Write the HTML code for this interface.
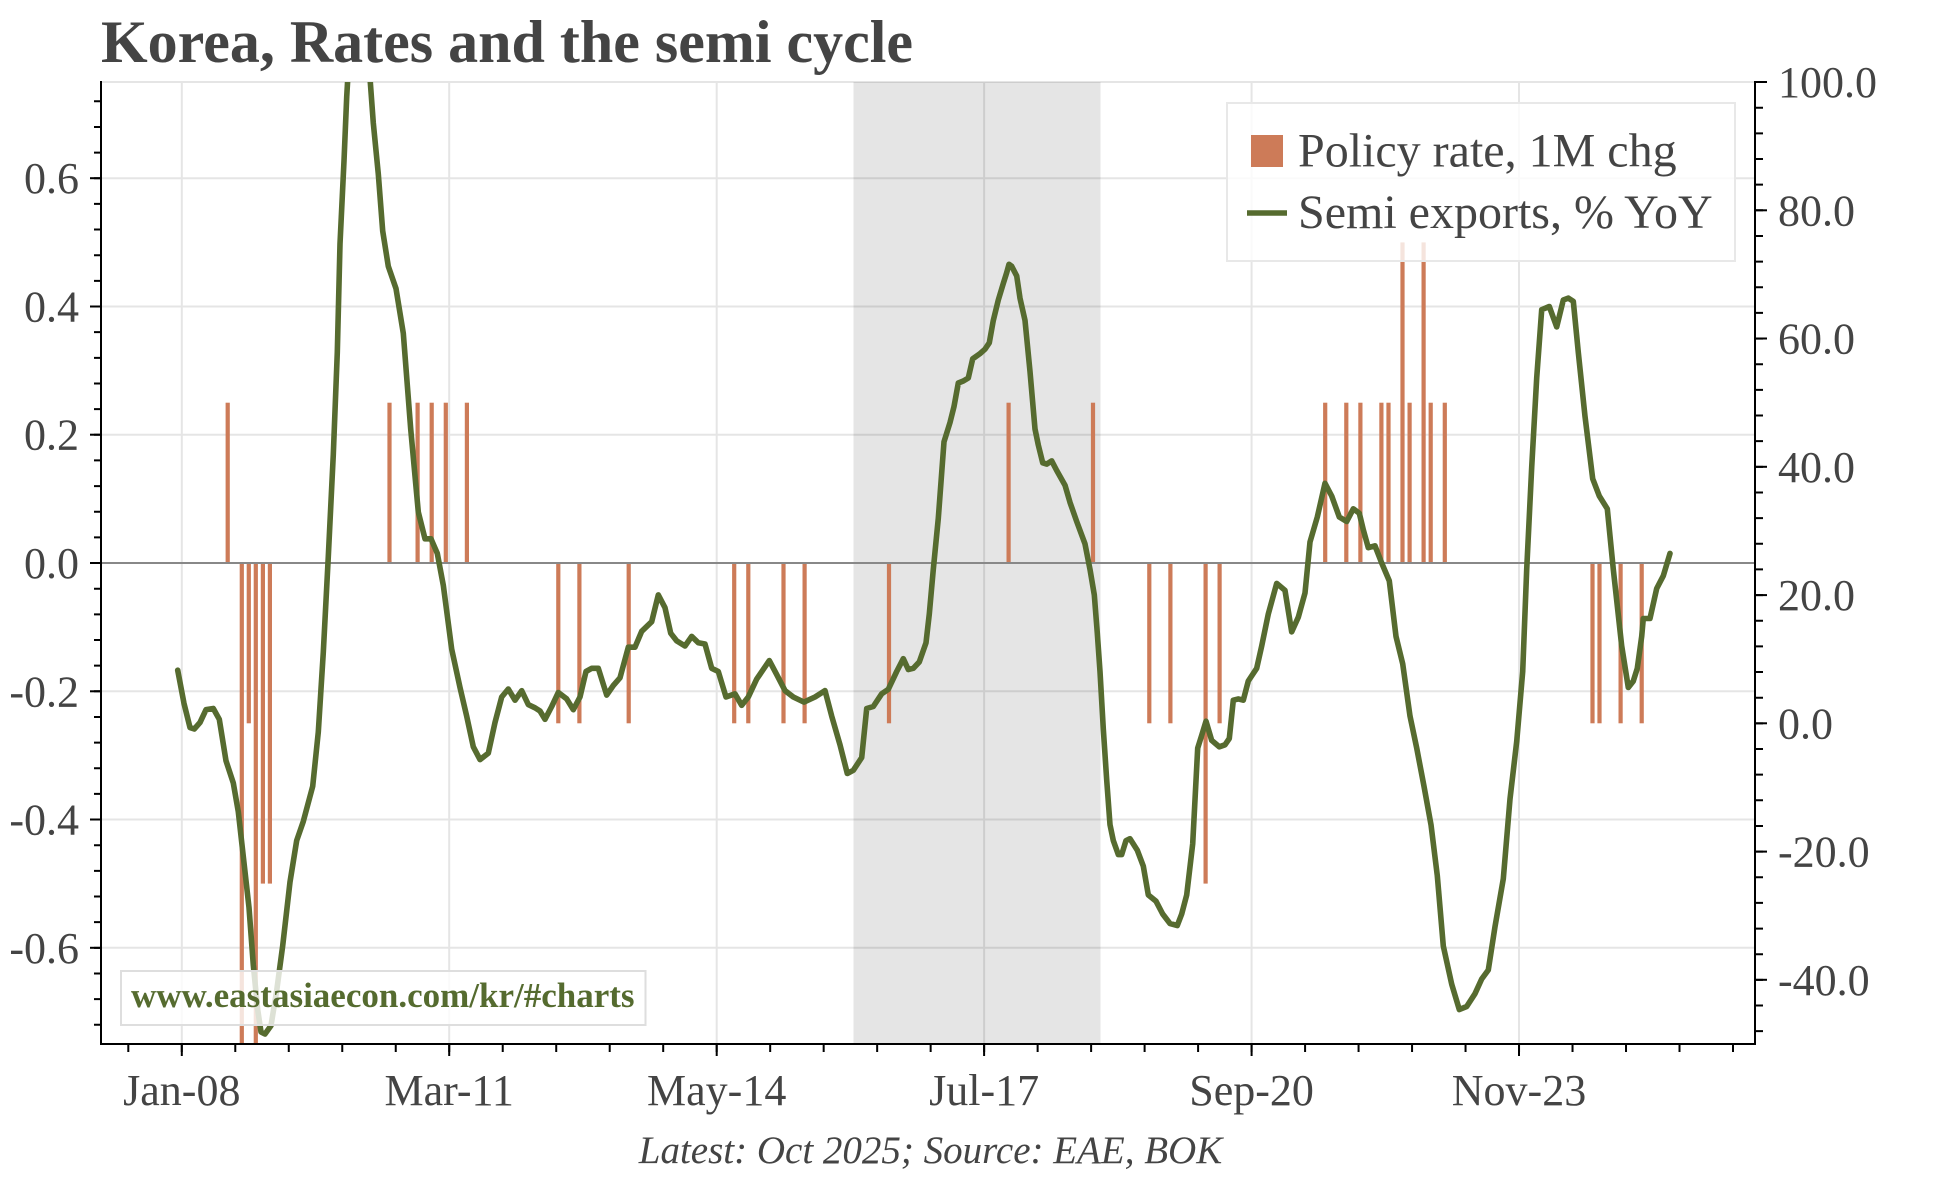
<!DOCTYPE html>
<html><head><meta charset="utf-8"><style>
html,body{margin:0;padding:0;background:#fff;}
svg{display:block;}
text{font-family:"Liberation Serif",serif;fill:#444;}
</style></head><body>
<svg width="1944" height="1178" viewBox="0 0 1944 1178" xmlns="http://www.w3.org/2000/svg">
<defs><clipPath id="pc"><rect x="101" y="82" width="1654" height="962"/></clipPath></defs>
<rect width="1944" height="1178" fill="#fff"/>
<text x="101" y="62" font-size="60" font-weight="bold">Korea, Rates and the semi cycle</text>
<g stroke="#e5e5e5" stroke-width="2">
<line x1="101" y1="82" x2="1755" y2="82"/>
<line x1="101" y1="178.2" x2="1755" y2="178.2"/>
<line x1="101" y1="306.5" x2="1755" y2="306.5"/>
<line x1="101" y1="434.7" x2="1755" y2="434.7"/>
<line x1="101" y1="691.3" x2="1755" y2="691.3"/>
<line x1="101" y1="819.5" x2="1755" y2="819.5"/>
<line x1="101" y1="947.8" x2="1755" y2="947.8"/>
<line x1="181.8" y1="82" x2="181.8" y2="1044"/>
<line x1="449.2" y1="82" x2="449.2" y2="1044"/>
<line x1="716.7" y1="82" x2="716.7" y2="1044"/>
<line x1="984.1" y1="82" x2="984.1" y2="1044"/>
<line x1="1251.6" y1="82" x2="1251.6" y2="1044"/>
<line x1="1519" y1="82" x2="1519" y2="1044"/>
</g>
<rect x="853.5" y="82" width="247" height="962" fill="#000" fill-opacity="0.1"/>
<g clip-path="url(#pc)" fill="#cd7b58">
<rect x="225.6" y="402.7" width="4.2" height="160.3"/>
<rect x="239.7" y="563" width="4.2" height="481"/>
<rect x="246.7" y="563" width="4.2" height="160.3"/>
<rect x="253.7" y="563" width="4.2" height="481"/>
<rect x="260.8" y="563" width="4.2" height="320.6"/>
<rect x="267.8" y="563" width="4.2" height="320.6"/>
<rect x="387.4" y="402.7" width="4.2" height="160.3"/>
<rect x="415.5" y="402.7" width="4.2" height="160.3"/>
<rect x="429.6" y="402.7" width="4.2" height="160.3"/>
<rect x="443.7" y="402.7" width="4.2" height="160.3"/>
<rect x="464.8" y="402.7" width="4.2" height="160.3"/>
<rect x="556.2" y="563" width="4.2" height="160.3"/>
<rect x="577.3" y="563" width="4.2" height="160.3"/>
<rect x="626.6" y="563" width="4.2" height="160.3"/>
<rect x="732.1" y="563" width="4.2" height="160.3"/>
<rect x="746.2" y="563" width="4.2" height="160.3"/>
<rect x="781.4" y="563" width="4.2" height="160.3"/>
<rect x="802.5" y="563" width="4.2" height="160.3"/>
<rect x="886.9" y="563" width="4.2" height="160.3"/>
<rect x="1006.5" y="402.7" width="4.2" height="160.3"/>
<rect x="1090.9" y="402.7" width="4.2" height="160.3"/>
<rect x="1147.2" y="563" width="4.2" height="160.3"/>
<rect x="1168.3" y="563" width="4.2" height="160.3"/>
<rect x="1203.5" y="563" width="4.2" height="320.6"/>
<rect x="1217.5" y="563" width="4.2" height="160.3"/>
<rect x="1323.1" y="402.7" width="4.2" height="160.3"/>
<rect x="1344.2" y="402.7" width="4.2" height="160.3"/>
<rect x="1358.3" y="402.7" width="4.2" height="160.3"/>
<rect x="1379.3" y="402.7" width="4.2" height="160.3"/>
<rect x="1386.4" y="402.7" width="4.2" height="160.3"/>
<rect x="1400.4" y="242.4" width="4.2" height="320.6"/>
<rect x="1407.5" y="402.7" width="4.2" height="160.3"/>
<rect x="1421.5" y="242.4" width="4.2" height="320.6"/>
<rect x="1428.6" y="402.7" width="4.2" height="160.3"/>
<rect x="1442.7" y="402.7" width="4.2" height="160.3"/>
<rect x="1590.4" y="563" width="4.2" height="160.3"/>
<rect x="1597.4" y="563" width="4.2" height="160.3"/>
<rect x="1618.5" y="563" width="4.2" height="160.3"/>
<rect x="1639.6" y="563" width="4.2" height="160.3"/>
</g>
<line x1="101" y1="563" x2="1755" y2="563" stroke="#888" stroke-width="2"/>
<g clip-path="url(#pc)">
<polyline fill="none" stroke="#566b2f" stroke-width="5.6" stroke-linejoin="round" stroke-linecap="round" points="177.7,670.2 184,703.4 190,727.6 194.3,729 200,722.5 206,709.7 213.3,708.5 219.3,719.3 226,760.8 233.3,783 238.3,811.8 243.3,856.5 249,907.5 253.3,965 257.7,1009.6 261,1032 265,1034 271,1025.6 276.7,990.5 282.7,945.8 290,882 296.7,840.5 303.3,821.4 312.7,786.3 318.3,732 323.3,652.3 328.3,556.6 333.3,454.5 337.3,352.4 340,243.9 344,161 346.7,97 350,40 359,-20 368,40 370,78 373.3,123 378.3,174 382.7,231 388.3,266.3 396,288.6 403.3,333.3 410.7,429 418.3,512 425,538.8 431,538.8 437.3,553.4 443.3,585.3 451.7,649.2 460,687.5 466.7,716.2 473.3,746.8 480,759.6 488.3,753.2 495,722.5 501.7,697 508.3,689 515,700.2 521.7,690.7 528.3,704.6 535,707.8 540,711 545,719.3 551.7,706.5 558.3,692.5 566.7,698.9 573.3,709.7 580,697 586,671.5 591.7,668.3 598.3,668.3 606.7,695.1 613.3,685.5 620,677.8 628.3,647.2 635,647.2 641.7,631.3 651.7,621.7 658.3,594.9 665,607.7 670.7,633.2 676.7,640.9 685,646 691.7,636.4 698.3,642.8 705,644 711.7,668.3 718.3,671.5 726,697 735,693.8 741.7,705.3 748.3,697 756.7,679.1 769.3,660.6 776.7,674.6 785,690.6 793.3,697 804,702.1 815,697 825,690.6 831.7,716.1 840,744.8 847.3,773.5 853.3,770.3 861.7,757.6 866.7,708.5 873.3,706.5 881.7,693.8 888.3,689.3 896.7,671.5 903.3,658.7 908.3,669.5 913.3,668.3 919.3,661.9 926,642.8 929.3,614 933.3,569.4 938.3,518.3 944,441.8 950,422.6 954,406.6 958.3,383 963.3,381 968.3,378 972.7,358.8 980,353.6 985,349.2 989.3,342.8 993.3,320.4 998.3,300 1003.3,283.4 1006.7,272.6 1009,264.3 1011.7,266.3 1016.7,275.9 1020,298.2 1025,320.4 1030,371.5 1035,429 1038.3,445 1042.7,462.8 1046.7,464.1 1051.7,460.9 1056.7,470.5 1065,485.2 1070,502.4 1076.7,521.5 1085,543.9 1090,569.4 1094.3,594.9 1097.3,633.2 1100,671.5 1103.3,728.9 1106.7,780 1110,824.7 1113.3,840.6 1118.3,854.6 1121.7,854.6 1126,840.6 1130,838.7 1137.3,850.2 1143.3,866.1 1148.3,894.9 1156,901.2 1162.7,914 1170,923.6 1177.3,925.5 1181.7,914 1186.7,894.9 1192.7,843.8 1197.7,748.1 1201.7,735.3 1206,721.2 1211.7,740.4 1219.3,746.8 1225,744.8 1229.3,738.5 1233.3,700.2 1238.3,698.9 1243.3,700.2 1248.3,681 1256.7,668.3 1261.7,646 1268.3,614 1276.7,583.4 1285,590.4 1291.7,631.9 1298.3,617.2 1305,593 1310,542 1317.3,517 1325,483.3 1331.7,496 1339.3,517 1346.7,521.5 1353.3,508.8 1359.3,513.2 1363.3,529.8 1368.3,547.7 1375,545.8 1381.7,563 1389.3,580.9 1396,636.4 1402.7,663.8 1410,716.1 1416.7,748 1424,786.3 1431,824.7 1437.3,875.7 1443.3,946 1451.7,984.2 1459.3,1009.6 1466.7,1006.5 1475,993.7 1481.7,979 1488.3,970 1495,926.7 1503.3,878.8 1510,799 1516.7,741.6 1522.7,671.5 1526.7,569.4 1531.7,467.3 1536.7,378 1541.7,309.7 1549.3,306.5 1556.7,326.9 1563.3,300 1568.3,298.1 1573.3,301.3 1578.3,352.4 1585,416.3 1592.7,478.8 1599.3,496 1607.3,508.8 1613.3,569.4 1621.7,646 1628.3,687.5 1633.3,681.1 1637.3,668.3 1641.7,636.4 1643.3,618.5 1650,618.5 1656.7,588.5 1663.3,575.8 1670,553.4"/>
</g>
<rect x="121" y="971" width="524.5" height="54" fill="#fff" fill-opacity="0.8" stroke="#dedede" stroke-width="2"/>
<text x="131" y="1007" font-size="35" font-weight="bold" style="fill:#556b2f">www.eastasiaecon.com/kr/#charts</text>
<rect x="1227" y="103" width="508" height="158" fill="#fff" fill-opacity="0.8" stroke="#e8e8e8" stroke-width="2"/>
<rect x="1251" y="135" width="32" height="32" fill="#cd7b58"/>
<line x1="1247" y1="213" x2="1287" y2="213" stroke="#566b2f" stroke-width="5.6"/>
<text x="1298" y="166.5" font-size="48">Policy rate, 1M chg</text>
<text x="1298" y="228" font-size="48">Semi exports, % YoY</text>
<g stroke="#000" stroke-width="2">
<line x1="101" y1="81" x2="101" y2="1045"/>
<line x1="1755" y1="81" x2="1755" y2="1045"/>
<line x1="100" y1="1044" x2="1756" y2="1044"/>
</g>
<line x1="97.5" y1="100.3" x2="97.5" y2="1044" stroke="#000" stroke-width="7" stroke-dasharray="2 23.652"/>
<line x1="1759" y1="106.7" x2="1759" y2="1044" stroke="#000" stroke-width="8" stroke-dasharray="2 23.652"/>
<line x1="127.3" y1="1048" x2="1756" y2="1048" stroke="#000" stroke-width="8" stroke-dasharray="2 51.49"/>
<g stroke="#000" stroke-width="2">
<line x1="90" y1="178.2" x2="101" y2="178.2"/>
<line x1="90" y1="306.5" x2="101" y2="306.5"/>
<line x1="90" y1="434.7" x2="101" y2="434.7"/>
<line x1="90" y1="563" x2="101" y2="563"/>
<line x1="90" y1="691.3" x2="101" y2="691.3"/>
<line x1="90" y1="819.5" x2="101" y2="819.5"/>
<line x1="90" y1="947.8" x2="101" y2="947.8"/>
<line x1="1755" y1="82" x2="1767" y2="82"/>
<line x1="1755" y1="210.3" x2="1767" y2="210.3"/>
<line x1="1755" y1="338.5" x2="1767" y2="338.5"/>
<line x1="1755" y1="466.8" x2="1767" y2="466.8"/>
<line x1="1755" y1="595.1" x2="1767" y2="595.1"/>
<line x1="1755" y1="723.3" x2="1767" y2="723.3"/>
<line x1="1755" y1="851.6" x2="1767" y2="851.6"/>
<line x1="1755" y1="979.8" x2="1767" y2="979.8"/>
<line x1="181.8" y1="1044" x2="181.8" y2="1056"/>
<line x1="449.2" y1="1044" x2="449.2" y2="1056"/>
<line x1="716.7" y1="1044" x2="716.7" y2="1056"/>
<line x1="984.1" y1="1044" x2="984.1" y2="1056"/>
<line x1="1251.6" y1="1044" x2="1251.6" y2="1056"/>
<line x1="1519" y1="1044" x2="1519" y2="1056"/>
</g>
<g font-size="44" text-anchor="end">
<text x="79" y="193">0.6</text>
<text x="79" y="321.5">0.4</text>
<text x="79" y="449.7">0.2</text>
<text x="79" y="578">0.0</text>
<text x="79" y="706.3">-0.2</text>
<text x="79" y="834.5">-0.4</text>
<text x="79" y="962.8">-0.6</text>
</g>
<g font-size="44">
<text x="1778" y="97">100.0</text>
<text x="1778" y="225.3">80.0</text>
<text x="1778" y="353.5">60.0</text>
<text x="1778" y="481.8">40.0</text>
<text x="1778" y="610.1">20.0</text>
<text x="1778" y="738.3">0.0</text>
<text x="1778" y="866.6">-20.0</text>
<text x="1778" y="994.8">-40.0</text>
</g>
<g font-size="44" text-anchor="middle">
<text x="181.8" y="1105">Jan-08</text>
<text x="449.2" y="1105">Mar-11</text>
<text x="716.7" y="1105">May-14</text>
<text x="984.1" y="1105">Jul-17</text>
<text x="1251.6" y="1105">Sep-20</text>
<text x="1519" y="1105">Nov-23</text>
</g>
<text x="930.5" y="1163" font-size="39" font-style="italic" text-anchor="middle">Latest: Oct 2025; Source: EAE, BOK</text>
</svg>
</body></html>
